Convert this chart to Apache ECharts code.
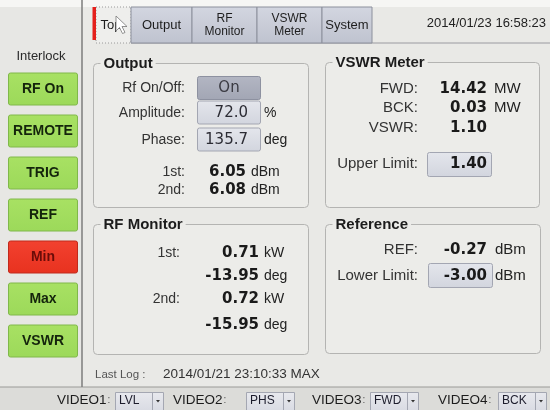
<!DOCTYPE html>
<html>
<head>
<meta charset="utf-8">
<script src="https://cdn.jsdelivr.net/npm/echarts@6/dist/echarts.min.js"></script>
<style>html,body{margin:0;padding:0;background:#e9e9e6;}#c{width:550px;height:410px;}</style>
</head>
<body>
<div id="c"></div>
<script>
// ---- data ----
const sideButtons = ['RF On', 'REMOTE', 'TRIG', 'REF', 'Min', 'Max', 'VSWR'];
const sideStates = ['ok', 'ok', 'ok', 'ok', 'alarm', 'ok', 'ok'];
const tabs = ['Top', 'Output', 'RF\nMonitor', 'VSWR\nMeter', 'System'];
const clock = '2014/01/23 16:58:23';
const outputLabels = ['Rf On/Off:', 'Amplitude:', 'Phase:', '1st:', '2nd:'];
const outputValues = ['On', '72.0', '135.7', '6.05', '6.08'];
const outputUnits = ['', '%', 'deg', 'dBm', 'dBm'];
const rfMonLabels = ['1st:', '', '2nd:', ''];
const rfMonValues = ['0.71', '-13.95', '0.72', '-15.95'];
const rfMonUnits = ['kW', 'deg', 'kW', 'deg'];
const vswrLabels = ['FWD:', 'BCK:', 'VSWR:', 'Upper Limit:'];
const vswrValues = ['14.42', '0.03', '1.10', '1.40'];
const vswrUnits = ['MW', 'MW', '', ''];
const refLabels = ['REF:', 'Lower Limit:'];
const refValues = ['-0.27', '-3.00'];
const refUnits = ['dBm', 'dBm'];
const lastLogLabel = 'Last Log :';
const lastLog = '2014/01/21 23:10:33 MAX';
const videoLabels = ['VIDEO1', 'VIDEO2', 'VIDEO3', 'VIDEO4'];
const videoValues = ['LVL', 'PHS', 'FWD', 'BCK'];

// ---- drawing ----
const chart = echarts.init(document.getElementById('c'), null, {renderer: 'canvas'});
const G = [];
const measure = (() => { const cv = document.createElement('canvas').getContext('2d'); return (t, f) => { cv.font = f; return cv.measureText(t).width; }; })();
const LAB = '"Liberation Sans", Arial, sans-serif';
const VAL = '"DejaVu Sans", sans-serif';

function rect(x, y, w, h, fill, stroke, r, extra) {
  G.push(Object.assign({type: 'rect', shape: {x, y, width: w, height: h, r: r || 0}, style: {fill: fill || 'none', stroke: stroke || null, lineWidth: 1}}, extra || {}));
}
function line(x1, y1, x2, y2, stroke, lw, dash) {
  G.push({type: 'line', shape: {x1, y1, x2, y2}, style: {stroke, lineWidth: lw || 1, lineDash: dash || null}});
}
function text(t, x, y, font, fill, align) {
  G.push({type: 'text', x, y, style: {text: t, font, fill, align: align || 'left', verticalAlign: 'middle', textAlign: align || 'left', textVerticalAlign: 'middle'}});
}
function grad(c1, c2) { return new echarts.graphic.LinearGradient(0, 0, 0, 1, [{offset: 0, color: c1}, {offset: 1, color: c2}]); }

// backgrounds
rect(0, 0, 550, 410, '#e9e9e6');
rect(0, 0, 550, 7, '#f6f6f4');
rect(0, 7, 82, 380, '#e7e7e4');
rect(0, 387, 550, 23, '#dcdcd9');
line(0, 387, 550, 387, '#9a9a98', 1);
line(82, 0, 82, 387, '#7d7d7d', 1.5);

// tabs
const tabX = [96, 131, 192, 257, 322];
const tabW = [35, 61, 65, 65, 50];
line(131, 43, 550, 43, '#9a9aa0', 1);
tabs.forEach((t, i) => {
  if (i === 0) {
    rect(tabX[i], 7, tabW[i], 36, '#eeeeec', '#9a9a9a', 0, {style: {fill: '#eeeeec', stroke: '#9a9a9a', lineWidth: 1, lineDash: [1, 2]}});
    rect(92.5, 7, 3.5, 33, '#e4201c');
  } else {
    rect(tabX[i], 7, tabW[i], 36, grad('#d3d6e0', '#bfc3cf'), '#8c909c', 0);
  }
  const lines = t.split('\n');
  const cx = tabX[i] + tabW[i] / 2;
  if (lines.length === 1) text(t, i === 0 ? 111 : cx, 25, '13px ' + LAB, '#1e1e1e', 'center');
  else { text(lines[0], cx, 19, '12px ' + LAB, '#1e1e1e', 'center'); text(lines[1], cx, 32, '12px ' + LAB, '#1e1e1e', 'center'); }
});
// cursor arrow
G.push({type: 'polygon', shape: {points: [[116, 16], [116, 31], [119.5, 27.5], [122.5, 33.5], [125, 32.5], [122, 26.5], [127, 26.5]]}, style: {fill: '#ffffff', stroke: '#777', lineWidth: 0.8}});
text(clock, 546, 23, '13px ' + LAB, '#222', 'right');

// sidebar
text('Interlock', 41, 56, '13px ' + LAB, '#2a2a2a', 'center');
sideButtons.forEach((b, i) => {
  const y = 73 + i * 42;
  const alarm = sideStates[i] === 'alarm';
  rect(8.5, y, 69, 32, alarm ? grad('#f2412f', '#e8321f') : grad('#a8e163', '#9cd95a'), alarm ? '#c02a1c' : '#80b84a', 2);
  text(b, 43, y + 16.5, 'bold 14px ' + LAB, alarm ? '#6a0c08' : '#14240c', 'center');
});

// panels
function panel(x, y, w, h, title) {
  rect(x, y, w, h, '#ecece9', '#b4b4b2', 4);
  const f = 'bold 15px ' + LAB;
  const tw = measure(title, f);
  rect(x + 7, y - 3, tw + 6, 6, '#ecece9');
  text(title, x + 10, y, f, '#1c1c1c', 'left');
}
panel(93.5, 63.5, 215, 144, 'Output');
panel(93.5, 224.5, 215, 130, 'RF Monitor');
panel(325.5, 62.5, 214, 145, 'VSWR Meter');
panel(325.5, 224.5, 215, 129, 'Reference');

// Output panel
const outY = [88, 113, 140, 172, 190];
outputLabels.forEach((l, i) => text(l, 185, outY[i], '14px ' + LAB, '#333', 'right'));
rect(197.5, 76.5, 63, 23, grad('#b3b6c3', '#a2a6b4'), '#8d91a0', 2);
text(outputValues[0], 229, 88, '15px ' + VAL, '#3a3a42', 'center');
[1, 2].forEach(i => {
  rect(197.5, outY[i] - 12, 63, 23, grad('#e4e6ec', '#d2d5de'), '#a3a6b2', 2);
  text(outputValues[i], 248, outY[i], '15px ' + VAL, '#2c2c34', 'right');
  text(outputUnits[i], 264, outY[i], '14px ' + LAB, '#222', 'left');
});
[3, 4].forEach(i => {
  text(outputValues[i], 246, outY[i], 'bold 15px ' + VAL, '#1a1a1a', 'right');
  text(outputUnits[i], 251, outY[i], '14px ' + LAB, '#222', 'left');
});

// RF Monitor panel
const rfY = [253, 276, 299, 325];
rfMonValues.forEach((v, i) => {
  if (rfMonLabels[i]) text(rfMonLabels[i], 180, rfY[i], '14px ' + LAB, '#333', 'right');
  text(v, 259, rfY[i], 'bold 15px ' + VAL, '#1a1a1a', 'right');
  text(rfMonUnits[i], 264, rfY[i], '14px ' + LAB, '#222', 'left');
});

// VSWR Meter panel
const vsY = [89, 108, 128, 164];
vswrValues.forEach((v, i) => {
  text(vswrLabels[i], 418, vsY[i], '15px ' + LAB, '#333', 'right');
  if (i === 3) rect(427.5, 152.5, 64, 24, grad('#e4e6ec', '#d2d5de'), '#a3a6b2', 2);
  text(v, 487, vsY[i], 'bold 15px ' + VAL, '#1a1a1a', 'right');
  if (vswrUnits[i]) text(vswrUnits[i], 494, vsY[i], '15px ' + LAB, '#222', 'left');
});

// Reference panel
const refY = [250, 276];
refValues.forEach((v, i) => {
  text(refLabels[i], 418, refY[i], '15px ' + LAB, '#333', 'right');
  if (i === 1) rect(428.5, 263.5, 64, 24, grad('#e4e6ec', '#d2d5de'), '#a3a6b2', 2);
  text(v, 487, refY[i], 'bold 15px ' + VAL, '#1a1a1a', 'right');
  text(refUnits[i], 495, refY[i], '15px ' + LAB, '#222', 'left');
});

// last log
text(lastLogLabel, 95, 375, '11.5px ' + LAB, '#555', 'left');
text(lastLog, 163, 374, '13.5px ' + LAB, '#333', 'left');

// bottom bar
const vlX = [57, 173, 312, 438];
const vbX = [115, 246, 370, 498];
videoLabels.forEach((l, i) => {
  const f = '13.5px ' + LAB;
  text(l, vlX[i], 400, f, '#1c1c1c', 'left');
  text(':', vlX[i] + measure(l, f) + 1, 400, '10px ' + LAB, '#555', 'left');
  rect(vbX[i] + 0.5, 392.5, 48, 19, grad('#e8e9ee', '#d8dae2'), '#a4a7b2', 0);
  line(vbX[i] + 37.5, 393, vbX[i] + 37.5, 410, '#a4a7b2', 1);
  text(videoValues[i], vbX[i] + 4, 401, '12px ' + LAB, '#1c1c2c', 'left');
  G.push({type: 'polygon', shape: {points: [[vbX[i] + 41, 400], [vbX[i] + 45, 400], [vbX[i] + 43, 402.5]]}, style: {fill: '#333'}});
});

chart.setOption({animation: false, graphic: {elements: G}});
</script>
</body>
</html>
